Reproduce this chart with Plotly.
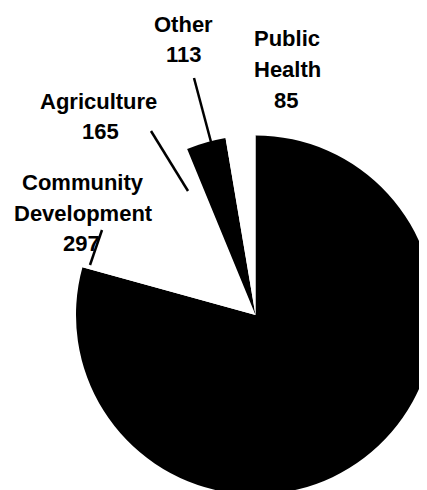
import plotly.graph_objects as go

# Slices, clockwise from 12 o'clock
categories = ["Remainder", "Community Development", "Agriculture", "Other", "Public Health"]
values = [2525, 297, 165, 113, 85]
slice_colors = ["black", "white", "white", "black", "white"]

# Labeled categories: text lines (value appended as last line)
label_names = ["Other", "Public Health", "Agriculture", "Community Development"]
label_lines = {
    "Other": ["Other"],
    "Public Health": ["Public", "Health"],
    "Agriculture": ["Agriculture"],
    "Community Development": ["Community", "Development"],
}

W, H = 427, 490
cx, cy, half = 247.5, 307, 179.5

fig = go.Figure(go.Pie(
    labels=categories,
    values=values,
    sort=False,
    direction="clockwise",
    rotation=0,
    marker=dict(colors=slice_colors, line=dict(width=0)),
    textinfo="none",
    hoverinfo="label+value",
    showlegend=False,
    domain=dict(x=[(cx - half) / W, min(1, (cx + half) / W)],
                y=[(H - cy - half) / H, (H - cy + half) / H]),
))

# per-line centre positions in pixels (x, y) for each label block
line_pos = {
    "Other": [(175, 24), (176, 53)],
    "Public Health": [(279, 38), (279, 69), (278, 99)],
    "Agriculture": [(90, 100), (92, 131)],
    "Community Development": [(75, 181), (75, 213), (73, 242)],
}
val_map = dict(zip(categories, values))
font = dict(family="Liberation Sans", size=22, color="black", weight="bold")
annotations = []
for name in label_names:
    lines = label_lines[name] + [str(val_map[name])]
    for txt, (px, py) in zip(lines, line_pos[name]):
        annotations.append(dict(
            x=px / W, y=1 - (py - 7) / H, xref="paper", yref="paper",
            text=txt, showarrow=False, xanchor="center", yanchor="middle",
            font=font,
        ))

# leader lines (pixels)
leaders = [
    ((186, 70), (203, 134)),
    ((143, 123), (180, 183)),
    ((94, 222), (82, 257)),
]
shapes = []
for (x0, y0), (x1, y1) in leaders:
    shapes.append(dict(type="line", xref="paper", yref="paper",
                       x0=x0 / W, y0=1 - y0 / H, x1=x1 / W, y1=1 - y1 / H,
                       line=dict(color="black", width=2.5)))

fig.update_layout(
    width=W, height=H,
    margin=dict(l=0, r=0, t=0, b=0),
    paper_bgcolor="white", plot_bgcolor="white",
    annotations=annotations, shapes=shapes,
)

fig.write_html("out.html")
